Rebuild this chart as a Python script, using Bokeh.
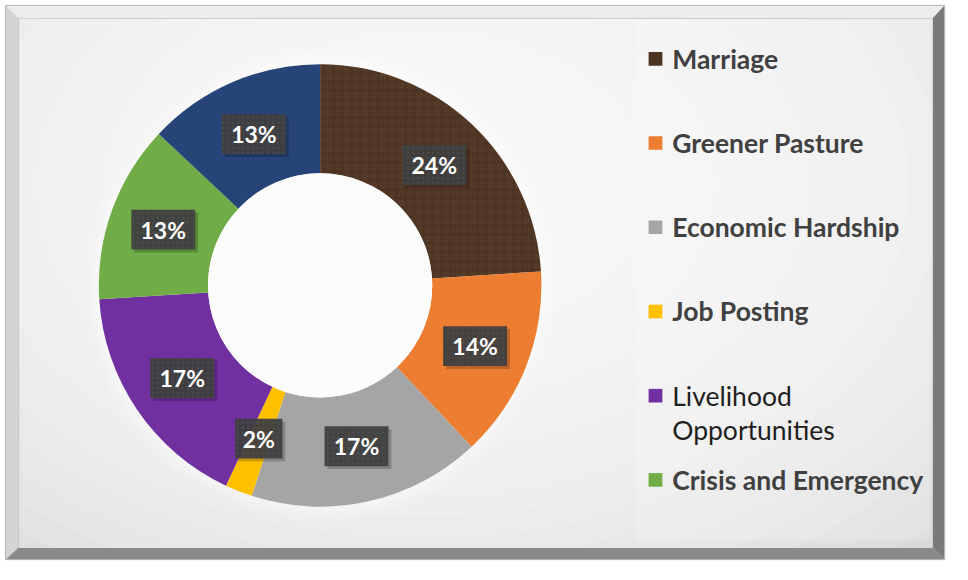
import numpy as np
from bokeh.plotting import figure
from bokeh.models import Range1d, ColumnDataSource
from bokeh.core.properties import value
from bokeh.embed import file_html
from bokeh.resources import INLINE

# ---------------- data ----------------
categories = ["Marriage", "Greener Pasture", "Economic Hardship", "Job Posting",
              "Livelihood Opportunities", "Crisis and Emergency", "Others"]
shares = [24, 14, 17, 2, 17, 13, 13]
colors = ["#4e3423", "#ED7D31", "#A5A5A5", "#FFC000", "#7030A0", "#70AD47", "#264478"]
legend_count = 6  # the last category is cut off in the legend of the original

# ---------------- layout helpers ----------------
W, H = 952, 564
def Y(py):  # reference page y (top-down) -> data y (bottom-up)
    return 580 - py

p = figure(width=W, height=H, output_backend="svg", toolbar_location=None,
           x_range=Range1d(0, 968), y_range=Range1d(0, 580), min_border=0)
p.axis.visible = False
p.grid.visible = False
p.outline_line_color = None
p.background_fill_color = "#ffffff"
p.border_fill_color = "#ffffff"

# ---------------- background panel with radial-ish gradient ----------------
p.quad(left=18, right=948, bottom=Y(563), top=Y(18), fill_color="#d9d9d9", line_color=None)
N = 22
for i in range(N):
    t = 1 - i / N
    p.ellipse(x=430, y=Y(190), width=1450 * t, height=1000 * t,
              fill_color="#ffffff", fill_alpha=0.105, line_color=None)
# legend panel (slightly lighter)
p.quad(left=645, right=945, bottom=Y(555), top=Y(20), fill_color="#ffffff",
       fill_alpha=0.18, line_color=None)

# white page margin outside frame
p.quad(left=[0, 0, 0, 960], right=[968, 968, 5, 968], bottom=[Y(5), 0, 0, 0],
       top=[580, Y(575), 580, 580], fill_color="#ffffff", line_color=None)
# bevelled frame
p.patch([5, 960, 948, 18], [Y(5), Y(5), Y(18), Y(18)], fill_color="#ececec", line_color=None)
p.patch([5, 18, 18, 5], [Y(5), Y(18), Y(563), Y(575)], fill_color="#d4d4d4", line_color=None)
p.patch([960, 960, 948, 948], [Y(5), Y(575), Y(563), Y(18)], fill_color="#7a7a7a", line_color=None)
p.patch([5, 960, 948, 18], [Y(575), Y(575), Y(563), Y(563)], fill_color="#8a8a8a", line_color=None)
p.line([5, 960, 960, 5, 5], [Y(5), Y(5), Y(575), Y(575), Y(5)], line_color="#b5b5b5", line_width=1)
p.line([18, 948], [Y(18.5), Y(18.5)], line_color="#cfcfcf", line_width=1)
p.line([18.5, 18.5], [Y(18), Y(563)], line_color="#c4c4c4", line_width=1)

# ---------------- donut ----------------
cx, cy = 325, Y(293)
r_in, r_out = 114, 225
vals = np.array(shares, dtype=float)
frac = vals / vals.sum()
cum = np.cumsum(frac)
start = np.pi / 2 - cum * 2 * np.pi
end = np.pi / 2 - (cum - frac) * 2 * np.pi
mid = (start + end) / 2

# soft halo
for rr, a in [(240, 0.12), (235, 0.15), (230, 0.2)]:
    p.circle(x=cx, y=cy, radius=rr, fill_color="#ffffff", fill_alpha=a, line_color=None)

src = ColumnDataSource(dict(cat=categories, share=shares, color=colors,
                            start=start, end=end))
p.annular_wedge(x=cx, y=cy, inner_radius=r_in, outer_radius=r_out,
                start_angle="start", end_angle="end", fill_color="color",
                line_color=None, source=src)
# faint mottled texture on the first slice
p.annular_wedge(x=cx, y=cy, inner_radius=r_in, outer_radius=r_out,
                start_angle=start[0], end_angle=end[0], fill_alpha=0,
                line_color=None, hatch_pattern="ring", hatch_color="#7a5a3e",
                hatch_alpha=0.18, hatch_scale=9, hatch_weight=2)
# hole
p.circle(x=cx, y=cy, radius=r_in, fill_color="#fcfcfc", line_color=None)

# ---------------- data labels ----------------
r_mid = (r_in + r_out) / 2
lx = cx + r_mid * np.cos(mid)
ly = cy + r_mid * np.sin(mid)
labels = [f"{v}%" for v in shares]
bw = [14 + 17 * len(s) for s in labels]
lab = ColumnDataSource(dict(x=lx, y=ly, sx=lx + 3, sy=ly - 3, w=bw, text=labels))
p.rect(x="sx", y="sy", width="w", height=41, fill_color="#000000", fill_alpha=0.2,
       line_color=None, source=lab)
p.rect(x="x", y="y", width="w", height=41, fill_color="#3f3f3f", fill_alpha=0.95,
       line_color=None, hatch_pattern="dot", hatch_color="#575757", hatch_alpha=0.45,
       hatch_scale=5, source=lab)
p.text(x="x", y="y", text="text", text_align="center", text_baseline="middle",
       text_color="#ffffff", text_font=value("Lato"), text_font_style="bold",
       text_font_size="23px", source=lab)

# ---------------- legend ----------------
step = 86.6
for i in range(legend_count):
    py = 60 + i * step
    p.rect(x=666, y=Y(py), width=14, height=14, fill_color=colors[i], line_color=None)
    name = categories[i]
    if name == "Livelihood Opportunities":
        lines = ["Livelihood", "Opportunities"]
        style, col = "normal", "#1e1e1e"
    else:
        lines = [name]
        style, col = "bold", "#404040"
    for j, ln in enumerate(lines):
        p.text(x=[683], y=[Y(py + j * 35)], text=[ln], text_align="left",
               text_baseline="middle", text_color=col, text_font=value("Lato"),
               text_font_style=style, text_font_size="26.5px")

open("out.html", "w").write(file_html(p, INLINE))
